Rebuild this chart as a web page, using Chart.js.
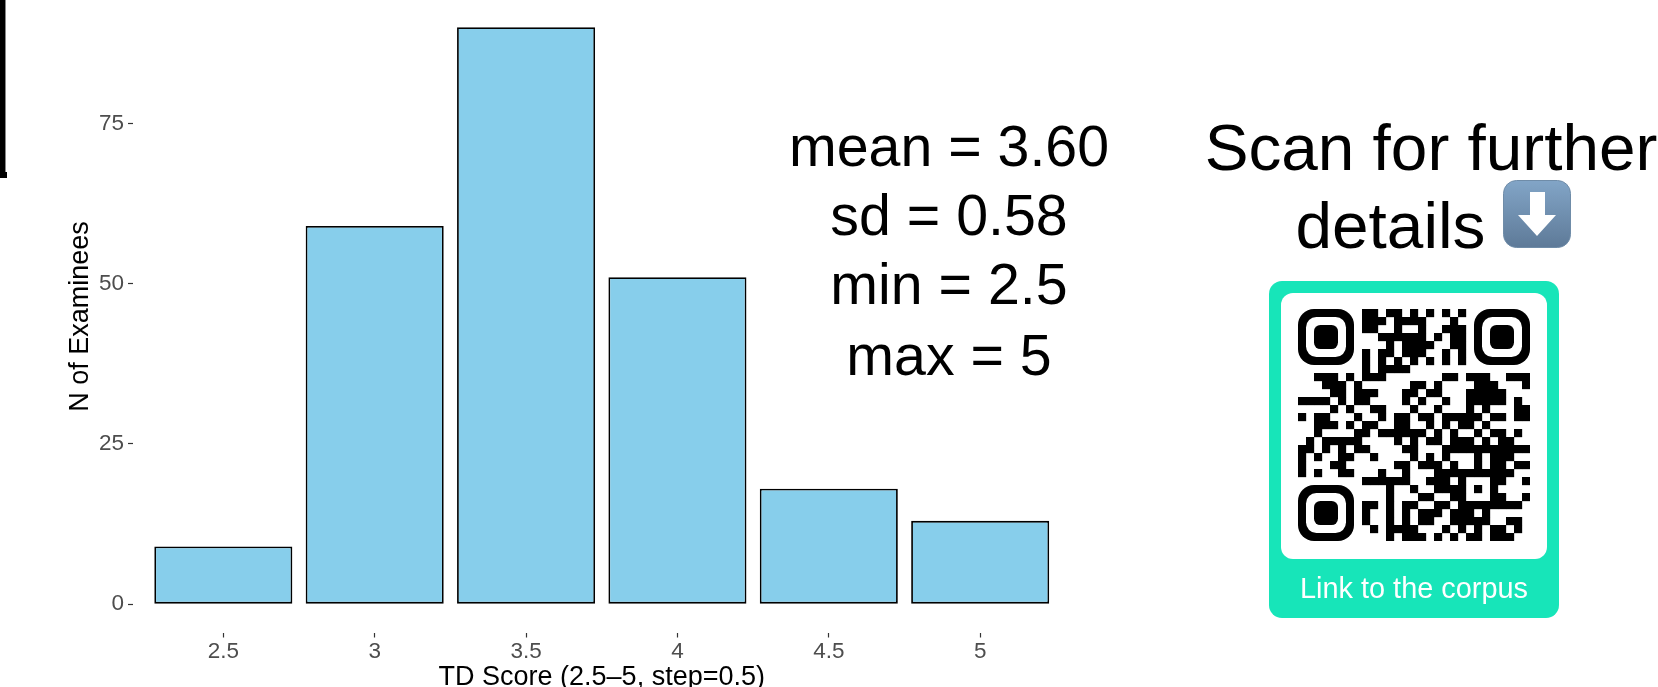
<!DOCTYPE html>
<html>
<head>
<meta charset="utf-8">
<title>TD Score</title>
<script src="https://cdn.jsdelivr.net/npm/chart.js@4"></script>
<style>
    html, body { margin: 0; padding: 0; background: #fff; width: 1658px; height: 687px; overflow: hidden; }
    body { position: relative; font-family: "Liberation Sans", Arial, sans-serif; color: #000; }
    #myChart { position: absolute; left: 0; top: 0; }
    .label { position: absolute; white-space: nowrap; text-align: center; transform: translateX(-50%); }
    .stat { font-size: 57.3px; line-height: 70px; }
    .scan { font-size: 65.7px; line-height: 76px; }
    #edge { position: absolute; left: 0; top: 0; width: 5px; height: 172px; background: #000; border-right: 1.5px solid #888; }
    #edgeFoot { position: absolute; left: 0; top: 172px; width: 7px; height: 6px; background: #000; }
    #card { position: absolute; left: 1269px; top: 281px; width: 290px; height: 337px; border-radius: 13px; background: #17E5B9; }
    #cardInner { position: absolute; left: 12px; top: 11.5px; width: 266px; height: 266px; border-radius: 12px; background: #fff; }
    #cardText { position: absolute; left: 0; width: 290px; top: 290px; text-align: center; color: #fff; font-size: 28.9px; line-height: 34px; }
    #qr { position: absolute; left: 1298.3px; top: 309.3px; }
    #arrow { position: absolute; left: 1503px; top: 180px; }
</style>
</head>
<body>
<div id="edge"></div>
<div id="edgeFoot"></div>
<canvas id="myChart"></canvas>

<div class="label stat" style="left:949px; top:111px">mean = 3.60</div>
<div class="label stat" style="left:949px; top:180px">sd = 0.58</div>
<div class="label stat" style="left:949px; top:249px">min = 2.5</div>
<div class="label stat" style="left:949px; top:320px">max = 5</div>

<div class="label scan" style="left:1431px; top:110px">Scan for further</div>
<div class="label scan" style="left:1390.5px; top:188px">details</div>

<svg id="arrow" width="68" height="68" viewBox="0 0 68 68">
    <defs>
        <linearGradient id="arrowFill" x1="0" y1="0" x2="0" y2="1">
            <stop offset="0" stop-color="#82A5C7"/>
            <stop offset="1" stop-color="#5E7A98"/>
        </linearGradient>
    </defs>
    <rect x="0.5" y="0.5" width="67" height="67" rx="13" fill="url(#arrowFill)" stroke="#6F8CA8"/>
    <path d="M27 12 H42 V35 H53 L34 56 L15 35 H27 Z" fill="#fff"/>
</svg>

<div id="card">
    <div id="cardInner"></div>
    <div id="cardText">Link to the corpus</div>
</div>
<svg id="qr" width="232" height="232" viewBox="0 0 29 29" shape-rendering="auto"></svg>

<script>
// bar chart values
const scores = [2.5, 3, 3.5, 4, 4.5, 5];
const examinees = [9, 59, 90, 51, 18, 13];
const yTicks = [0, 25, 50, 75];

// black modules of the QR code, one list of columns per row (finder squares are drawn apart)
const qrRows = [
    [8,9,11,12,14,16,18,20],
    [8,9,10,12,13,14,15,19],
    [8,9,12,15,18,19,20],
    [10,11,12,13,14,15,17,19,20],
    [11,13,14,15,16,19,20],
    [8,10,11,13,14,15,18,20],
    [8,10,12,14,16,18,20],
    [8,10,11,12,13],
    [2,3,4,6,8,9,10,18,19,21,22,23,26,27,28],
    [3,4,5,7,14,15,17,22,23,24,28],
    [4,5,7,8,9,13,14,16,17,21,22,23,24,25],
    [0,1,2,3,5,7,8,13,15,18,21,22,23,24,25,27],
    [4,6,9,10,14,17,21,23,27,28],
    [0,2,3,7,10,12,13,15,16,18,19,20,21,22,24,25,27,28],
    [2,3,4,6,8,9,12,13,16,18,20,21,23],
    [2,7,8,10,11,12,13,14,15,17,19,22,24,25,27],
    [1,3,4,5,6,7,12,14,16,17,19,20,21,23,25,26],
    [0,1,3,5,7,8,13,14,18,19,20,21,22,23,24,25,26,27,28],
    [0,2,5,6,9,14,16,18,22,24,25,26],
    [0,4,5,12,13,15,16,17,19,22,24,25,27,28],
    [0,2,5,6,10,13,17,18,19,20,21,22,23,24,25,26],
    [8,9,10,11,12,13,16,17,18,20,24,25,28],
    [11,14,17,18,19,20,22,24],
    [11,15,16,19,20,24,25,28],
    [8,9,11,13,14,17,18,20,21,22,23,24,25,26,27],
    [8,11,13,15,16,17,19,20,21,23],
    [8,11,13,15,16,19,20,21,22,23,26,27],
    [9,11,12,13,14,18,20,22,24,25,27],
    [11,13,14,15,17,19,21,22,24,25,26]
];
const qrFinders = [[0, 0], [22, 0], [0, 22]];

function drawQr() {
    const svg = document.getElementById('qr');
    let out = '';
    qrRows.forEach((cols, row) => {
        cols.forEach(col => {
            out += `<rect x="${col}" y="${row}" width="1.02" height="1.02" fill="#000"/>`;
        });
    });
    qrFinders.forEach(([x, y]) => {
        out += `<rect x="${x}" y="${y}" width="7" height="7" rx="2" fill="#000"/>`;
        out += `<rect x="${x + 1}" y="${y + 1}" width="5" height="5" rx="1.3" fill="#fff"/>`;
        out += `<rect x="${x + 2}" y="${y + 2}" width="3" height="3" rx="0.8" fill="#000"/>`;
    });
    svg.innerHTML = out;
}

document.addEventListener('DOMContentLoaded', function () {
    drawQr();

    const canvas = document.getElementById('myChart');
    canvas.width = 1658;
    canvas.height = 720;
    canvas.style.width = '1658px';
    canvas.style.height = '720px';

    new Chart(canvas.getContext('2d'), {
        type: 'bar',
        data: {
            datasets: [{
                label: 'N of Examinees',
                data: scores.map((s, i) => ({ x: s, y: examinees[i] })),
                backgroundColor: '#87CEEB',
                borderColor: '#000',
                borderWidth: 1.8,
                borderSkipped: false,
                barPercentage: 0.912,
                categoryPercentage: 1
            }]
        },
        options: {
            responsive: false,
            animation: false,
            devicePixelRatio: 1,
            layout: { padding: { top: 0, right: 587, bottom: 0, left: 0 } },
            plugins: { legend: { display: false }, tooltip: { enabled: false } },
            scales: {
                x: {
                    type: 'linear',
                    offset: false,
                    min: 2.2,
                    max: 5.3,
                    afterBuildTicks: scale => { scale.ticks = scores.map(v => ({ value: v })); },
                    afterFit: scale => {
                        scale.height = 87;
                        scale.paddingLeft = 0;
                        scale.paddingRight = 0;
                    },
                    grid: { offset: false, drawOnChartArea: false, drawTicks: true, tickLength: 4.5, tickColor: '#333', tickWidth: 1.2 },
                    border: { display: false },
                    ticks: {
                        autoSkip: false,
                        maxRotation: 0,
                        padding: 1,
                        color: '#4D4D4D',
                        font: { family: 'Liberation Sans', size: 22.5 },
                        callback: value => String(value)
                    },
                    title: {
                        display: true,
                        text: 'TD Score (2.5\u20135, step=0.5)',
                        color: '#000',
                        font: { family: 'Liberation Sans', size: 27 },
                        padding: { top: 0, bottom: 26 }
                    }
                },
                y: {
                    min: -4.5,
                    max: 94.26,
                    afterBuildTicks: scale => { scale.ticks = yTicks.map(v => ({ value: v })); },
                    afterFit: scale => {
                        scale.width = 132.5;
                        scale.paddingTop = 0;
                        scale.paddingBottom = 0;
                    },
                    grid: { drawOnChartArea: false, drawTicks: true, tickLength: 4.5, tickColor: '#333', tickWidth: 1.2 },
                    border: { display: false },
                    ticks: {
                        padding: 4,
                        color: '#4D4D4D',
                        font: { family: 'Liberation Sans', size: 22.5 }
                    },
                    title: {
                        display: true,
                        text: 'N of Examinees',
                        color: '#000',
                        font: { family: 'Liberation Sans', size: 27 },
                        padding: { top: 64, bottom: 0 }
                    }
                }
            }
        }
    });
});
</script>
</body>
</html>
